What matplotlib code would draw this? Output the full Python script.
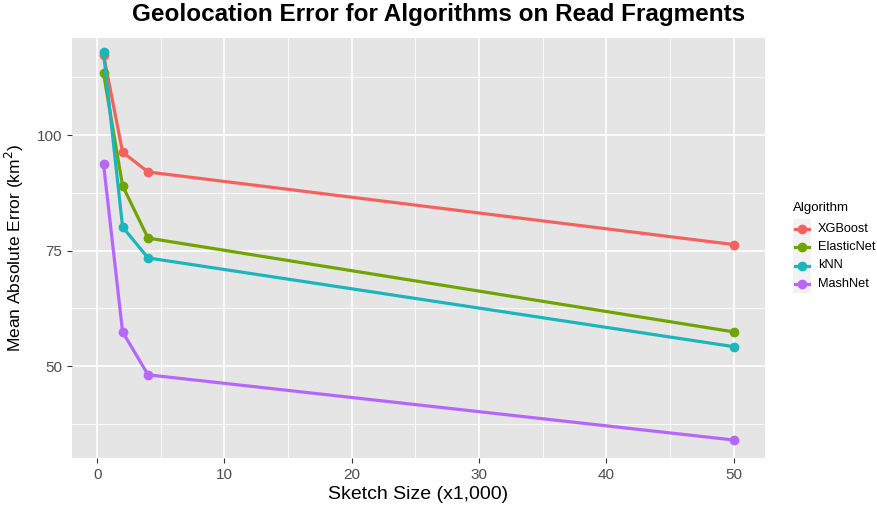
# Geolocation error vs sketch size, ggplot-like look
import matplotlib.pyplot as plt
from matplotlib.lines import Line2D
from matplotlib.patches import Rectangle

plt.rcParams['font.family'] = ['Liberation Sans', 'DejaVu Sans']

# Data
sketch_size = [0.5, 2, 4, 50]
algorithms = ['XGBoost', 'ElasticNet', 'kNN', 'MashNet']
xgboost = [117.4, 96.3, 92.0, 76.3]
elasticnet = [113.4, 89.0, 77.7, 57.4]
knn = [117.9, 80.1, 73.4, 54.2]
mashnet = [93.8, 57.4, 48.1, 34.0]
colors = ['#F4625E', '#70A500', '#1BB5BC', '#B667F9']

x_ticks = [0, 10, 20, 30, 40, 50]
x_minor = [5, 15, 25, 35, 45]
y_ticks = [50, 75, 100]
y_minor = [37.5, 62.5, 87.5, 112.5]

fig = plt.figure(figsize=(8.77, 5.05), dpi=100)
ax = fig.add_axes([72/877, 47/505, 693/877, 420/505])
ax.set_facecolor('#E5E5E5')

# grid
for v in x_minor:
    ax.axvline(v, color='white', lw=0.6, zorder=0)
for v in y_minor:
    ax.axhline(v, color='white', lw=0.6, zorder=0)
for v in x_ticks:
    ax.axvline(v, color='white', lw=1.2, zorder=0)
for v in y_ticks:
    ax.axhline(v, color='white', lw=1.2, zorder=0)

series = [xgboost, elasticnet, knn, mashnet]
for name, vals, c in zip(algorithms, series, colors):
    ax.plot(sketch_size, vals, color=c, lw=2.3, marker='o', markersize=6,
            label=name, zorder=3)

ax.set_xlim(-1.975, 52.475)
ax.set_ylim(30.1, 121.0)
ax.set_xticks(x_ticks)
ax.set_yticks(y_ticks)
for s in ax.spines.values():
    s.set_visible(False)
ax.tick_params(axis='both', colors='#333333', labelcolor='#4D4D4D',
               labelsize=11, length=3.5, width=0.8)

ax.set_xlabel('Sketch Size (x1,000)', fontsize=14, labelpad=3)
ax.set_ylabel('Mean Absolute Error (km$^2$)', fontsize=12.5, labelpad=8)
fig.text(0.5, 1 - 21/505, 'Geolocation Error for Algorithms on Read Fragments',
         ha='center', va='baseline', fontsize=17.5, fontweight='bold')

# legend drawn by hand in figure coordinates, grey key background
fig.patches.append(Rectangle((793/877, 1 - 293/505), 18/877, 74/505,
                             transform=fig.transFigure, facecolor='#F2F2F2',
                             edgecolor='none'))
fig.text(793/877, 1 - 208/505, 'Algorithm', ha='left', va='center',
         fontsize=9.5)
for i, (name, c) in enumerate(zip(algorithms, colors)):
    y = 1 - (228.5 + 18.5 * i)/505
    fig.lines.append(Line2D([795/877, 809/877], [y, y], color=c, lw=2.3,
                            transform=fig.transFigure))
    fig.lines.append(Line2D([802/877], [y], color=c, marker='o', markersize=6,
                            transform=fig.transFigure))
    fig.text(818/877, y, name, ha='left', va='center', fontsize=9.2)

fig.savefig('out.png', dpi=100)
